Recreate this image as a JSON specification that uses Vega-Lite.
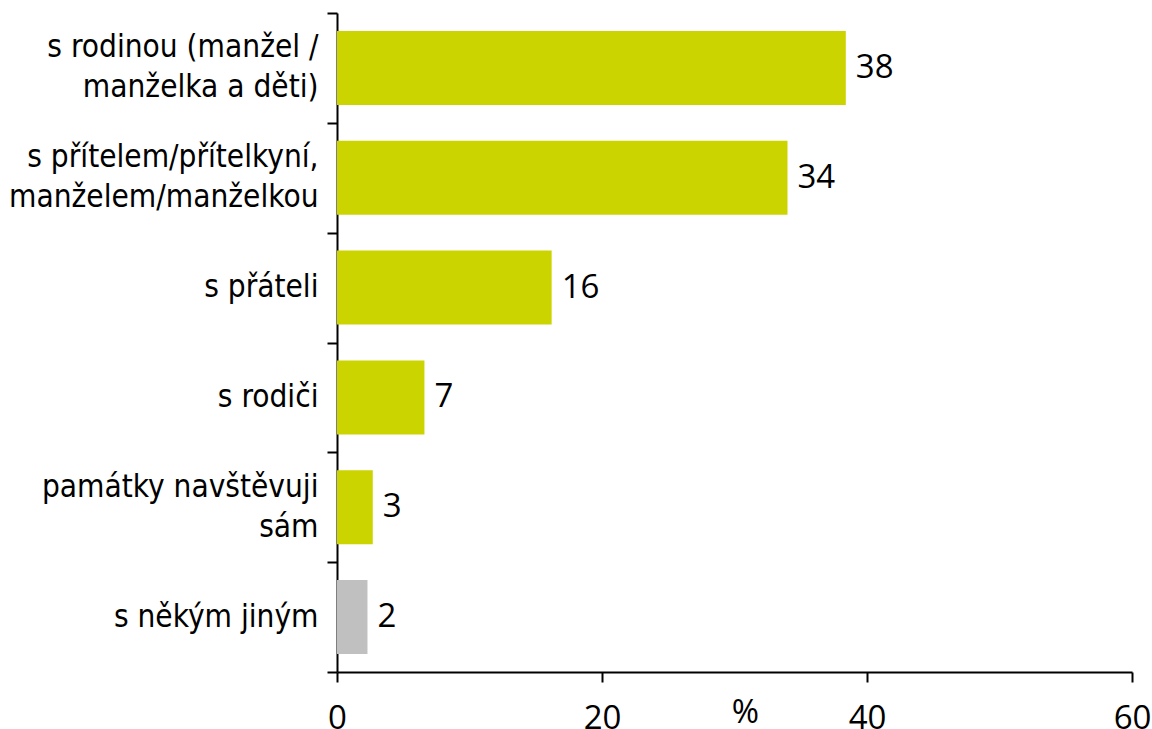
{
  "$schema": "https://vega.github.io/schema/vega-lite/v6.json",
  "width": 795,
  "height": 659,
  "autosize": {"type": "none"},
  "padding": {"left": 337, "top": 13, "right": 20, "bottom": 57},
  "background": "white",
  "config": {
    "view": {"stroke": null},
    "axis": {
      "domainColor": "black",
      "tickColor": "black",
      "domainWidth": 2,
      "tickWidth": 2,
      "grid": false,
      "labelColor": "black",
      "titleColor": "black"
    }
  },
  "data": {
    "values": [
      {"cat": "s rodinou (manžel /|manželka a děti)", "value": 38.4, "type": "main"},
      {"cat": "s přítelem/přítelkyní,|manželem/manželkou", "value": 34.0, "type": "main"},
      {"cat": "s přáteli", "value": 16.2, "type": "main"},
      {"cat": "s rodiči", "value": 6.6, "type": "main"},
      {"cat": "památky navštěvuji|sám", "value": 2.7, "type": "main"},
      {"cat": "s někým jiným", "value": 2.3, "type": "other"}
    ]
  },
  "encoding": {
    "y": {
      "field": "cat",
      "type": "nominal",
      "sort": null,
      "scale": {"paddingInner": 0, "paddingOuter": 0},
      "axis": {
        "title": null,
        "tickBand": "extent",
        "tickSize": 10,
        "labelPadding": 9,
        "labelFont": "DejaVu Sans Condensed",
        "labelFontSize": 31.3,
        "labelLineHeight": 40,
        "labelLimit": 0,
        "labelBaseline": {"condition": {"test": "indexof(datum.label, '|') >= 0", "value": "line-bottom"}, "value": "middle"},
        "labelExpr": "split(datum.label, '|')"
      }
    }
  },
  "layer": [
    {
      "mark": {"type": "bar", "height": {"band": 0.674}},
      "encoding": {
        "x": {
          "field": "value",
          "type": "quantitative",
          "scale": {"domain": [0, 60], "nice": false},
          "axis": {
            "values": [0, 20, 40, 60],
            "tickSize": 10,
            "labelPadding": 20,
            "labelFont": "Open Sans",
            "labelFontSize": 33,
            "labelFlush": false,
            "title": "%",
            "titleFont": "Open Sans",
            "titleFontSize": 33,
            "titleFontWeight": "normal",
            "titleX": 408,
            "titleY": 50,
            "titleBaseline": "alphabetic"
          }
        },
        "color": {
          "field": "type",
          "type": "nominal",
          "scale": {"domain": ["main", "other"], "range": ["#CCD400", "#C0C0C0"]},
          "legend": null
        }
      }
    },
    {
      "mark": {"type": "text", "align": "left", "baseline": "middle", "dx": 10, "font": "Open Sans", "fontSize": 33, "color": "black"},
      "encoding": {
        "x": {"field": "value", "type": "quantitative"},
        "text": {"field": "value", "type": "quantitative", "format": ".0f"}
      }
    }
  ]
}
